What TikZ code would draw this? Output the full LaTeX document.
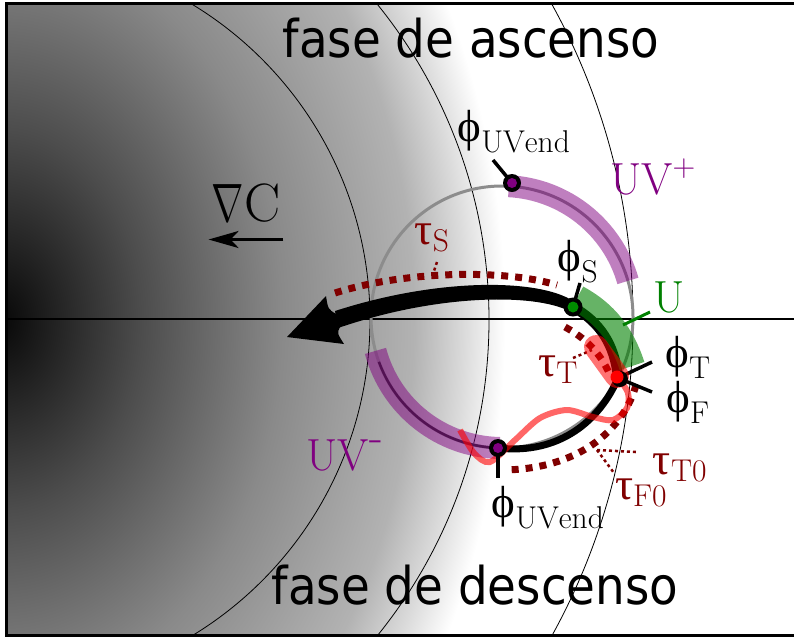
\RequirePackage{fix-cm}
\documentclass[tikz,border=0pt]{standalone}
\usepackage{fontspec}
\usetikzlibrary{arrows.meta}
\newfontfamily\phasefont{DejaVu Sans Condensed}
\newfontfamily\greekfont{Liberation Serif}
\newcommand{\gphi}{\mbox{\greekfont ϕ}}
\newcommand{\gtau}{\mbox{\greekfont τ}}
\definecolor{taured}{HTML}{800000}
\definecolor{uvpurple}{HTML}{800080}
\definecolor{ugreen}{HTML}{008000}
\pgfdeclareradialshading{gradc}{\pgfpoint{0bp}{0bp}}{color(0bp)=(black!97); color(7bp)=(black!70); color(14bp)=(black!46); color(20.5bp)=(black!30); color(23bp)=(black!14); color(25bp)=(white); color(50bp)=(white)}
\tikzset{
  thinarc/.style={black,line width=0.8pt},
  frameline/.style={black,line width=3pt},
  orbit/.style={black!45,line width=3pt},
  uvband/.style={uvpurple,line width=22pt,opacity=0.5},
  uband/.style={ugreen,line width=26pt,opacity=0.6},
  tauline/.style={taured,line width=7pt,dash pattern=on 7pt off 7pt},
  leader/.style={taured,line width=2.5pt,dash pattern=on 3pt off 3pt},
  phitick/.style={black,line width=3.5pt},
  gradarrow/.style={-{Stealth[length=30pt,width=17pt,inset=8pt]},line width=3pt},
  lbl/.style={font=\fontsize{45}{52}\selectfont,inner sep=0pt},
  taulbl/.style={lbl,text=taured},
  phase/.style={font=\phasefont\fontsize{52}{60}\selectfont,inner sep=0pt}
}

\begin{document}
\begin{tikzpicture}[x=1pt,y=-1pt]
  \useasboundingbox (0,0) rectangle (794,638);

  % Concentration gradient and iso-lines.
  \begin{scope}
    \clip (6,3) rectangle (794,635);
    \shade[shading=gradc] (0,320) ellipse [x radius=505, y radius=680];
    \draw[thinarc] (1,320) circle[radius=369];
    \draw[thinarc] (-13,320) circle[radius=502];
    \draw[thinarc] (-21,320) circle[radius=654];
  \end{scope}
  \draw[frameline] (800,3) -- (6,3) -- (6,635) -- (800,635);
  \draw[black,line width=2.5pt] (6,319) -- (794,319);

  % Cycle and its phases.
  \coordinate (ctr) at (502,317);
  \coordinate (uvtop) at (512,183);
  \coordinate (phis) at (573,307);
  \coordinate (phitf) at (618,378);
  \coordinate (uvbot) at (498,448);
  \draw[orbit] (ctr) circle[radius=131];
  \draw[black!85,line width=2.5pt] (ctr) ++(-200:131) arc[start angle=-200,end angle=-268,radius=131];
  \draw[uvband] (ctr) ++(-16:131) arc[start angle=-16,end angle=-87,radius=131];
  \draw[uvband] (ctr) ++(-195:131) arc[start angle=-195,end angle=-269,radius=131];

  % Trajectory.
  \fill (573,301) .. controls (540,279) and (440,277) .. (335,311) -- (338,328) .. controls (440,293) and (540,293) .. (573,313) -- cycle;
  \fill (287,337) -- (326,296) .. controls (328,309) .. (336,314) -- (340,327) .. controls (337,333) .. (344,344) -- cycle;
  \draw[black,line width=10pt] (phis) .. controls (600,322) and (615,345) .. (phitf);
  \draw[black,line width=7pt] (phitf) .. controls (600,420) and (560,455) .. (uvbot);

  % Time spans.
  \draw[tauline] (335,293) .. controls (400,272) and (500,268) .. (557,285);
  \draw[tauline] (565,327) .. controls (585,338) and (600,352) .. (610,375);
  \draw[tauline] (636,385) .. controls (625,425) and (585,468) .. (505,470);
  \draw[leader] (437,262) -- (432,277);
  \draw[leader] (573,358) -- (592,350);
  \draw[leader] (597,450) -- (636,452);
  \draw[leader] (597,450) -- (614,473);

  \draw[phitick] (phitf) -- (652,362);
  \draw[phitick] (phitf) -- (652,392);
  \draw[uband] (577,298) .. controls (605,313) and (622,335) .. (632,366);
  \draw[ugreen,line width=3pt] (623,325) -- (650,312);
  \draw[red,line width=24pt,line cap=round,opacity=0.55] (596,347) -- (617,376);
  \draw[red,line width=6pt,opacity=0.6] plot[smooth] coordinates {(460,430) (474,453) (490,462) (515,440) (540,418) (567,410) (593,417) (613,420) (627,408) (628,393) (620,380)};

  % Phase points.
  \draw[phitick] (uvtop) -- (493,160);
  \draw[phitick] (phis) -- (580,283);
  \draw[phitick] (uvbot) -- (498,478);
  \fill[black] (uvtop) circle[radius=9];
  \fill[uvpurple] (uvtop) circle[radius=5];
  \fill[black] (uvbot) circle[radius=9];
  \fill[uvpurple] (uvbot) circle[radius=5];
  \fill[black] (phis) circle[radius=9.5];
  \fill[green!55!black] (phis) circle[radius=5.5];
  \fill[black] (620,379) circle[radius=8];
  \fill[red] (617,377) circle[radius=6.5];

  % Labels.
  \node[phase] (ascent) at (471,38) {fase de ascenso};
  \node[phase] (descent) at (475,585) {fase de descenso};
  \node[lbl,font=\fontsize{54}{60}\selectfont] (nablac) at (246,203) {\scalebox{0.72}[1]{$\nabla$}C};
  \draw[gradarrow] ([shift={(3,17)}]nablac.south east) -- ([shift={(-3,17)}]nablac.south west);
  \node[lbl] (phiuvtop) at (514,132) {$\gphi_{\mathrm{UVend}}$};
  \node[lbl,text=uvpurple] (uvplus) at (653,177) {$\mathrm{UV}^{+}$};
  \node[lbl,text=uvpurple] (uvminus) at (345,455) {$\mathrm{UV}^{\mbox{-}}$};
  \node[lbl,text=ugreen] (ulbl) at (669,297) {U};
  \node[taulbl] (taus) at (432,238) {$\gtau_{\mathrm{S}}$};
  \node[lbl] (phislbl) at (578,262) {$\gphi_{\mathrm{S}}$};
  \node[lbl] (phitlbl) at (688,357) {$\gphi_{\mathrm{T}}$};
  \node[lbl] (phiflbl) at (688,402) {$\gphi_{\mathrm{F}}$};
  \node[taulbl] (taut) at (558,370) {$\gtau_{\mathrm{T}}$};
  \node[taulbl] (tautzero) at (680,468) {$\gtau_{\mathrm{T0}}$};
  \node[taulbl] (taufzero) at (641,493) {$\gtau_{\mathrm{F0}}$};
  \node[lbl] (phiuvbot) at (548,508) {$\gphi_{\mathrm{UVend}}$};
\end{tikzpicture}
\end{document}
